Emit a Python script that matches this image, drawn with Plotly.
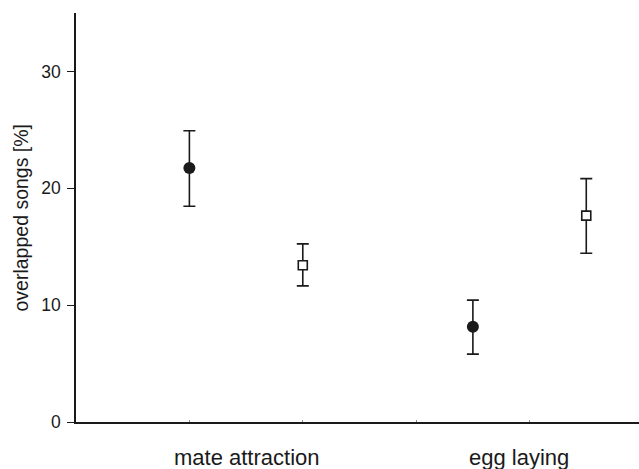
import plotly.graph_objects as go

categories = ["mate attraction", "egg laying"]
# filled circles (first condition), open squares (second condition)
circle_mean = [21.73, 8.15]
circle_upper = [24.93, 10.43]
circle_lower = [18.46, 5.81]
square_mean = [13.42, 17.66]
square_upper = [15.24, 20.83]
square_lower = [11.65, 14.44]
y_ticks = [0, 10, 20, 30]
y_title = "overlapped songs [%]"

group_base = [1.0, 3.5]
x_circle = [g for g in group_base]
x_square = [g + 1.0 for g in group_base]

ink = "#1a1a1a"
font_family = "Liberation Sans, Arial, Helvetica, sans-serif"

fig = go.Figure()
fig.add_trace(go.Scatter(
    x=x_circle, y=circle_mean, mode="markers",
    marker=dict(symbol="circle", size=12, color=ink, line=dict(width=0)),
    error_y=dict(type="data", symmetric=False,
                 array=[u - m for u, m in zip(circle_upper, circle_mean)],
                 arrayminus=[m - l for m, l in zip(circle_mean, circle_lower)],
                 color=ink, thickness=1.6, width=6),
    showlegend=False,
))
fig.add_trace(go.Scatter(
    x=x_square, y=square_mean, mode="markers",
    marker=dict(symbol="square", size=9, color="white", line=dict(width=1.6, color=ink)),
    error_y=dict(type="data", symmetric=False,
                 array=[u - m for u, m in zip(square_upper, square_mean)],
                 arrayminus=[m - l for m, l in zip(square_mean, square_lower)],
                 color=ink, thickness=1.6, width=6),
    showlegend=False,
))

label_x = [1.51, 3.91]
for lx, name in zip(label_x, categories):
    fig.add_annotation(x=lx, y=0, xref="x", yref="paper", text=name,
                       showarrow=False, yanchor="top", yshift=-21,
                       font=dict(size=22, color=ink, family=font_family))

fig.add_annotation(x=0, y=0.5, xref="paper", yref="paper", text=y_title,
                   showarrow=False, textangle=-90, xanchor="center", yanchor="middle",
                   xshift=-56, font=dict(size=19.5, color=ink, family=font_family))

fig.update_layout(
    width=639, height=469,
    margin=dict(l=76, r=0, t=13, b=47),
    paper_bgcolor="white", plot_bgcolor="white",
    font=dict(family=font_family, color=ink),
    xaxis=dict(range=[0.0, 4.965], showgrid=False, zeroline=False, automargin=False,
               showline=True, linecolor=ink, linewidth=1.6,
               tickvals=[1, 2, 3, 4], ticktext=["", "", "", ""],
               ticks="inside", ticklen=2, tickwidth=1, tickcolor="#888"),
    yaxis=dict(range=[0, 35], showgrid=False, zeroline=False, automargin=False,
               showline=True, linecolor=ink, linewidth=1.6,
               tickvals=y_ticks, ticks="outside", ticklen=7, tickwidth=1.4,
               tickcolor=ink, tickfont=dict(size=17.5, color=ink),
               ticklabelstandoff=3),
)

fig.write_html("out.html", config={"displayModeBar": False},
               post_script="document.body.style.margin='0';document.body.style.padding='0';document.body.style.overflow='hidden';")
